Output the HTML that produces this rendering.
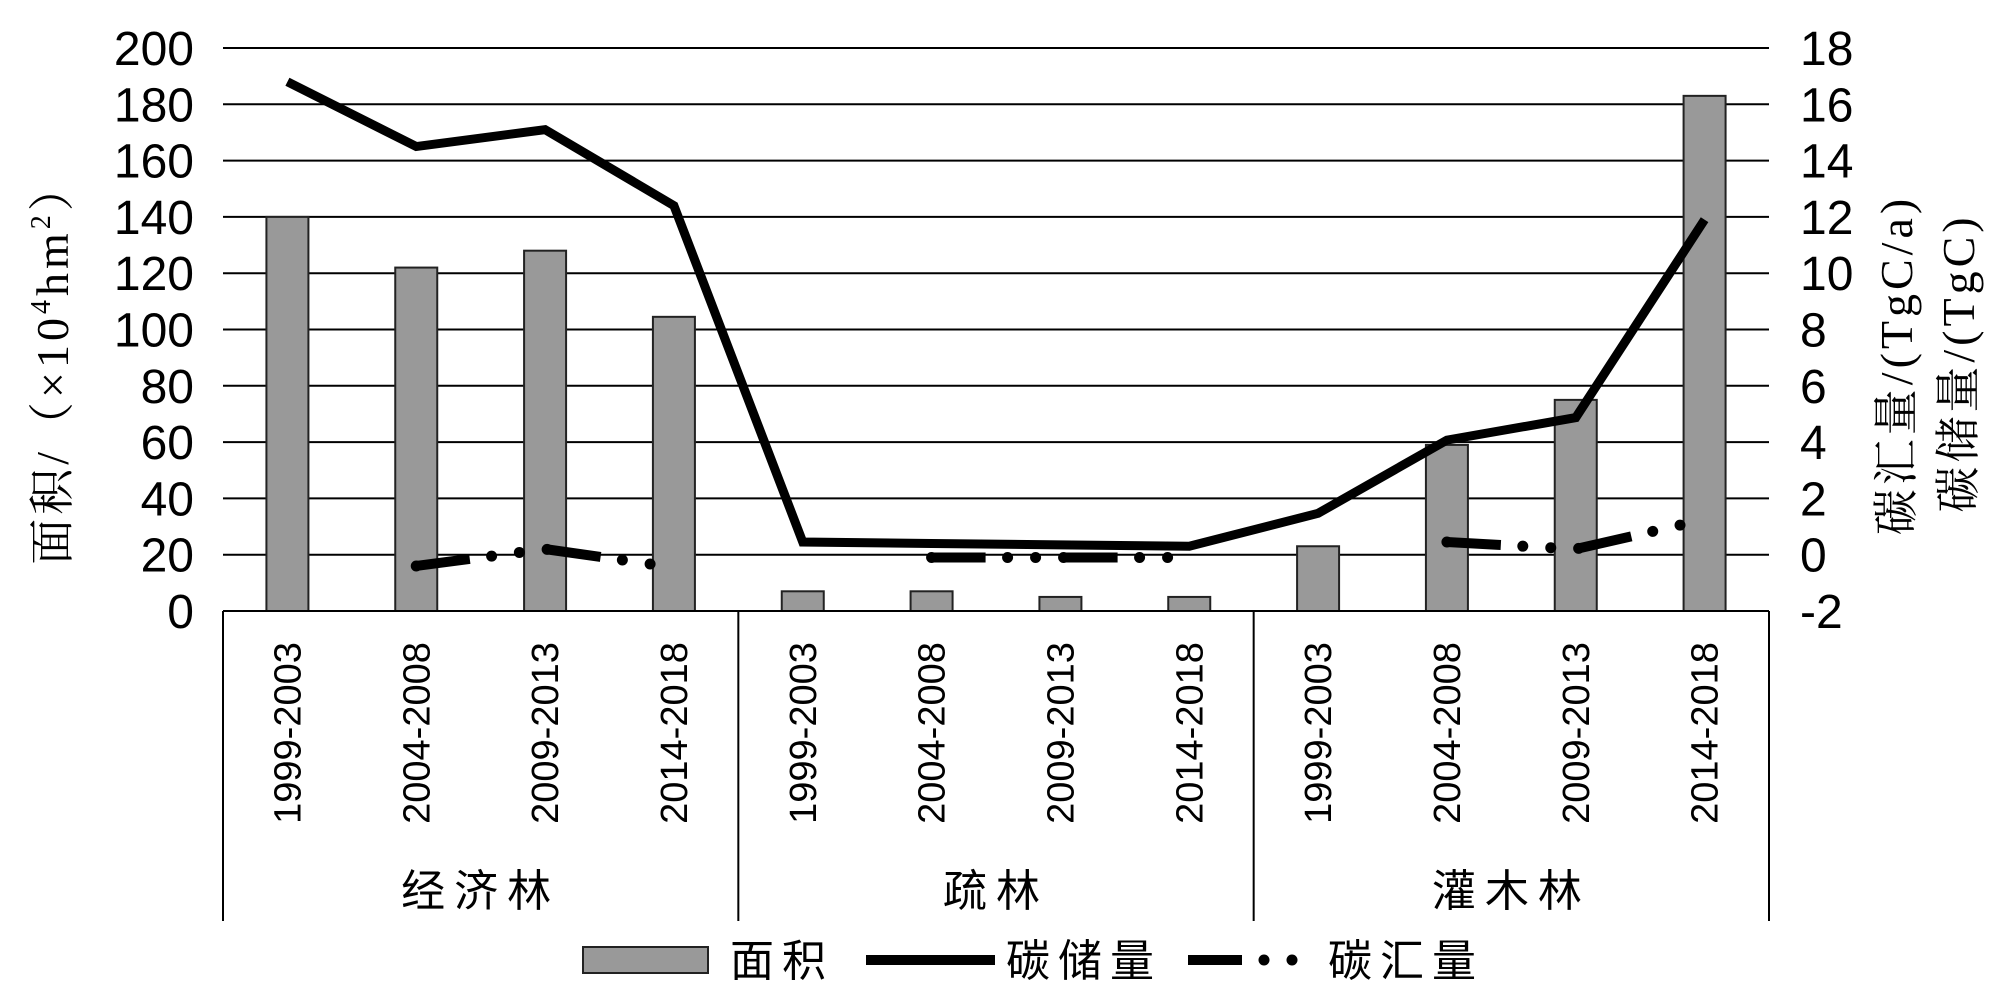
<!DOCTYPE html>
<html><head><meta charset="utf-8"><style>
body{margin:0;background:#fff}
svg{display:block}
text{font-family:"Liberation Sans","Noto Sans CJK SC",sans-serif;fill:#000}
.serif{font-family:"Liberation Serif","Noto Serif CJK SC",serif}
</style></head><body>
<svg id="chart" width="1999" height="991" viewBox="0 0 1999 991" xmlns="http://www.w3.org/2000/svg">
<g id="grid"></g>
<g id="bars"></g>
<g id="lines"></g>
<g id="axes"></g>
<text class="serif" font-size="46" letter-spacing="4" text-anchor="middle" transform="translate(68,363) rotate(-90)">面积/（×10<tspan font-size="28" dy="-18">4</tspan><tspan dy="18">hm</tspan><tspan font-size="28" dy="-18">2</tspan><tspan dy="18">）</tspan></text>
<text class="serif" font-size="46" letter-spacing="4" text-anchor="middle" transform="translate(1912,365) rotate(-90)">碳汇量/(TgC/a)</text>
<text class="serif" font-size="46" letter-spacing="4" text-anchor="middle" transform="translate(1974,363) rotate(-90)">碳储量/(TgC)</text>
<g>
<rect x="583" y="947" width="125" height="26" fill="#999" stroke="#222" stroke-width="2"/>
<text x="730" y="976" font-size="44" letter-spacing="8">面积</text>
<line x1="866" y1="960" x2="995" y2="960" stroke="#000" stroke-width="10"/>
<text x="1006" y="976" font-size="44" letter-spacing="8">碳储量</text>
<line x1="1188" y1="960" x2="1300" y2="960" stroke="#000" stroke-width="10" stroke-dasharray="54 22 0.1 28 0.1 200" stroke-linecap="butt"/>
<circle cx="1264" cy="960" r="5.5"/><circle cx="1292" cy="960" r="5.5"/>
<text x="1328" y="976" font-size="44" letter-spacing="8">碳汇量</text>
</g>
</svg>
<script>
const categories=["1999-2003","2004-2008","2009-2013","2014-2018","1999-2003","2004-2008","2009-2013","2014-2018","1999-2003","2004-2008","2009-2013","2014-2018"];
const groups=["经济林","疏林","灌木林"];
const areaValues=[140,122,128,104.5,7,7,5,5,23,59,75,183];
const stockValues=[16.8,14.5,15.1,12.4,0.45,0.4,0.35,0.3,1.47,4.07,4.87,11.9];
const sinkValues=[null,-0.4,0.2,-0.45,null,-0.1,-0.1,-0.1,null,0.45,0.2,1.25];
const leftTicks=[0,20,40,60,80,100,120,140,160,180,200];
const rightTicks=[-2,0,2,4,6,8,10,12,14,16,18];
const NS="http://www.w3.org/2000/svg";
const X0=223,X1=1769,YB=611,YT=48;
const cw=(X1-X0)/categories.length;
const xc=i=>X0+cw*(i+0.5);
const yL=v=>YB-(v/200)*(YB-YT);
const yR=v=>YB-((v+2)/20)*(YB-YT);
function mk(tag,attrs,parent){const e=document.createElementNS(NS,tag);for(const k in attrs)e.setAttribute(k,attrs[k]);parent.appendChild(e);return e;}
const grid=document.getElementById('grid'),axes=document.getElementById('axes'),bars=document.getElementById('bars'),lines=document.getElementById('lines');
leftTicks.forEach((t,i)=>{
  if(t>0){const l=mk('line',{x1:X0,x2:X1,y1:yL(t),y2:yL(t),stroke:'#000','stroke-width':2},grid);
  
  }
  const tx=mk('text',{x:194,y:yL(t)+17,'font-size':48,'text-anchor':'end'},axes);tx.textContent=t;
  
  
});
rightTicks.forEach(t=>{
  const tx=mk('text',{x:1800,y:yR(t)+17,'font-size':48},axes);tx.textContent=t;
  
  
});
areaValues.forEach((v,i)=>{
  const r=mk('rect',{x:xc(i)-21,y:yL(v),width:42,height:YB-yL(v),fill:'#999',stroke:'#222','stroke-width':2},bars);
  
  
});
const xa=mk('line',{x1:X0,x2:X1,y1:YB,y2:YB,stroke:'#000','stroke-width':2},axes);


[0,4,8,12].forEach(k=>{
  const l=mk('line',{x1:X0+cw*k,x2:X0+cw*k,y1:YB,y2:921,stroke:'#000','stroke-width':2},axes);
  
  
});
categories.forEach((c,i)=>{
  const t=mk('text',{'font-size':38,'text-anchor':'middle',transform:`translate(${xc(i)+13},733) rotate(-90)`},axes);t.textContent=c;
  
  
});
groups.forEach((g,k)=>{
  const t=mk('text',{x:X0+cw*(4*k+2),y:906,'font-size':44,'text-anchor':'middle','letter-spacing':9},axes);t.textContent=g;
  
  
});
const sp=mk('polyline',{points:stockValues.map((v,i)=>xc(i)+','+yR(v)).join(' '),fill:'none',stroke:'#000','stroke-width':9,'stroke-linejoin':'miter'},lines);


let seg=[];
const segs=[];
sinkValues.forEach((v,i)=>{if(v===null){if(seg.length)segs.push(seg);seg=[];}else seg.push([xc(i),yR(v)]);});
if(seg.length)segs.push(seg);
segs.forEach(s=>{
  const p=mk('polyline',{points:s.map(q=>q.join(',')).join(' '),fill:'none',stroke:'#000','stroke-width':10,'stroke-dasharray':'54 22 0.01 28 0.01 28','stroke-linecap':'butt'},lines);
  
  
  const d=mk('polyline',{points:s.map(q=>q.join(',')).join(' '),fill:'none',stroke:'#000','stroke-width':11,'stroke-dasharray':'0 76 0 28 0 28','stroke-linecap':'round'},lines);
  
  
});
</script>
</body></html>
